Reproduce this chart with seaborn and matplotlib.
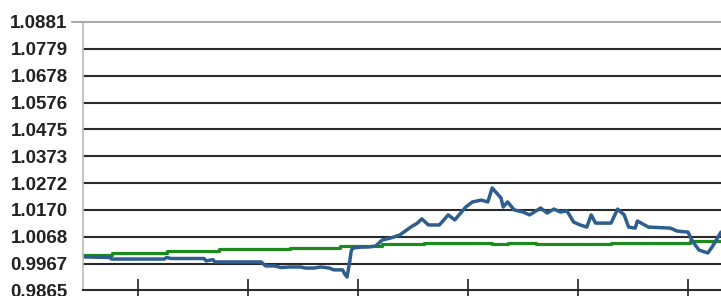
import numpy as np
import pandas as pd
import matplotlib
matplotlib.use("Agg")
import matplotlib.pyplot as plt
import seaborn as sns

# Blue series (day index, value)
blue_days = [0, 12, 13, 37, 38, 40, 55, 56, 59, 60, 81, 83, 87, 90, 94, 99, 101, 105,
             108, 112, 114, 118, 119, 120, 121, 122, 123, 126, 130, 133, 136, 140, 144,
             149, 152, 154, 157, 162, 166, 169, 174, 177, 181, 184, 186, 190, 191, 193,
             196, 200, 203, 208, 211, 214, 217, 220, 223, 226, 229, 231, 233, 240, 243,
             246, 248, 251, 252, 257, 267, 270, 275, 277, 280, 284, 286, 290]
blue_vals = [0.9992, 0.9990, 0.9984, 0.9984, 0.9990, 0.9986, 0.9986, 0.9977, 0.9982,
             0.9973, 0.9973, 0.9958, 0.9958, 0.9952, 0.9954, 0.9954, 0.9950, 0.9950,
             0.9954, 0.9950, 0.9943, 0.9943, 0.9927, 0.9916, 0.9962, 1.0018, 1.0026,
             1.0029, 1.0030, 1.0033, 1.0056, 1.0064, 1.0075, 1.0105, 1.0120, 1.0136,
             1.0113, 1.0113, 1.0151, 1.0132, 1.0181, 1.0200, 1.0207, 1.0200, 1.0253,
             1.0215, 1.0181, 1.0200, 1.0170, 1.0162, 1.0151, 1.0177, 1.0158, 1.0173,
             1.0162, 1.0166, 1.0124, 1.0113, 1.0105, 1.0151, 1.0120, 1.0120, 1.0173,
             1.0151, 1.0105, 1.0101, 1.0128, 1.0105, 1.0101, 1.0090, 1.0086, 1.0052,
             1.0018, 1.0007, 1.0030, 1.0086]

# Green series (step changes)
green_days = [0, 13, 38, 62, 94, 117, 136, 155, 186, 193, 206, 240, 276, 290]
green_vals = [0.9999, 1.0006, 1.0015, 1.0021, 1.0027, 1.0032, 1.0041, 1.0046,
              1.0041, 1.0045, 1.0041, 1.0046, 1.0054, 1.0054]

y_ticks = list(np.linspace(0.9865, 1.0881, 11))
y_labels = ["0.9865", "0.9967", "1.0068", "1.0170", "1.0272", "1.0373",
            "1.0475", "1.0576", "1.0678", "1.0779", "1.0881"]
x_ticks = [25, 75, 125, 175, 225, 275]

blue_df = pd.DataFrame({"day": blue_days, "value": blue_vals})
green_df = pd.DataFrame({"day": green_days, "value": green_vals})

sns.set_style("white")
plt.rcParams['font.family'] = ['Liberation Sans', 'DejaVu Sans']

fig = plt.figure(figsize=(7.21, 2.96), dpi=100)
ax = fig.add_axes([0.1151, 0.0186, 0.8849, 0.9071])

sns.lineplot(data=green_df, x="day", y="value", ax=ax, color="#1c8a1c",
             linewidth=2.3, drawstyle="steps-post")
sns.lineplot(data=blue_df, x="day", y="value", ax=ax, color="#2d5e8e",
             linewidth=2.5)

ax.set_xlim(0, 290)
ax.set_ylim(0.9865, 1.0881)
ax.set_yticks(y_ticks)
ax.set_yticklabels(y_labels, fontsize=13.5, fontweight="bold", color="#222222")
ax.set_xticks(x_ticks)
ax.set_xticklabels([])
ax.set_xlabel("")
ax.set_ylabel("")

for y in y_ticks[1:-1]:
    ax.axhline(y, color="#2a2a2a", linewidth=1.5, zorder=0)

ax.tick_params(axis="y", left=False, length=0, pad=11)
ax.tick_params(axis="x", bottom=True, direction="inout", length=16, width=1.3,
               color="#333333")

ax.spines["right"].set_visible(False)
ax.spines["left"].set_color("#bbbbbb")
ax.spines["left"].set_linewidth(1.2)
ax.spines["top"].set_color("#aaaaaa")
ax.spines["top"].set_linewidth(1.5)
ax.spines["bottom"].set_color("#2a2a2a")
ax.spines["bottom"].set_linewidth(1.5)
ax.plot([-0.017, 0], [1, 1], transform=ax.transAxes, color="#aaaaaa",
        linewidth=1.5, clip_on=False)

fig.savefig("out.png", dpi=100)
